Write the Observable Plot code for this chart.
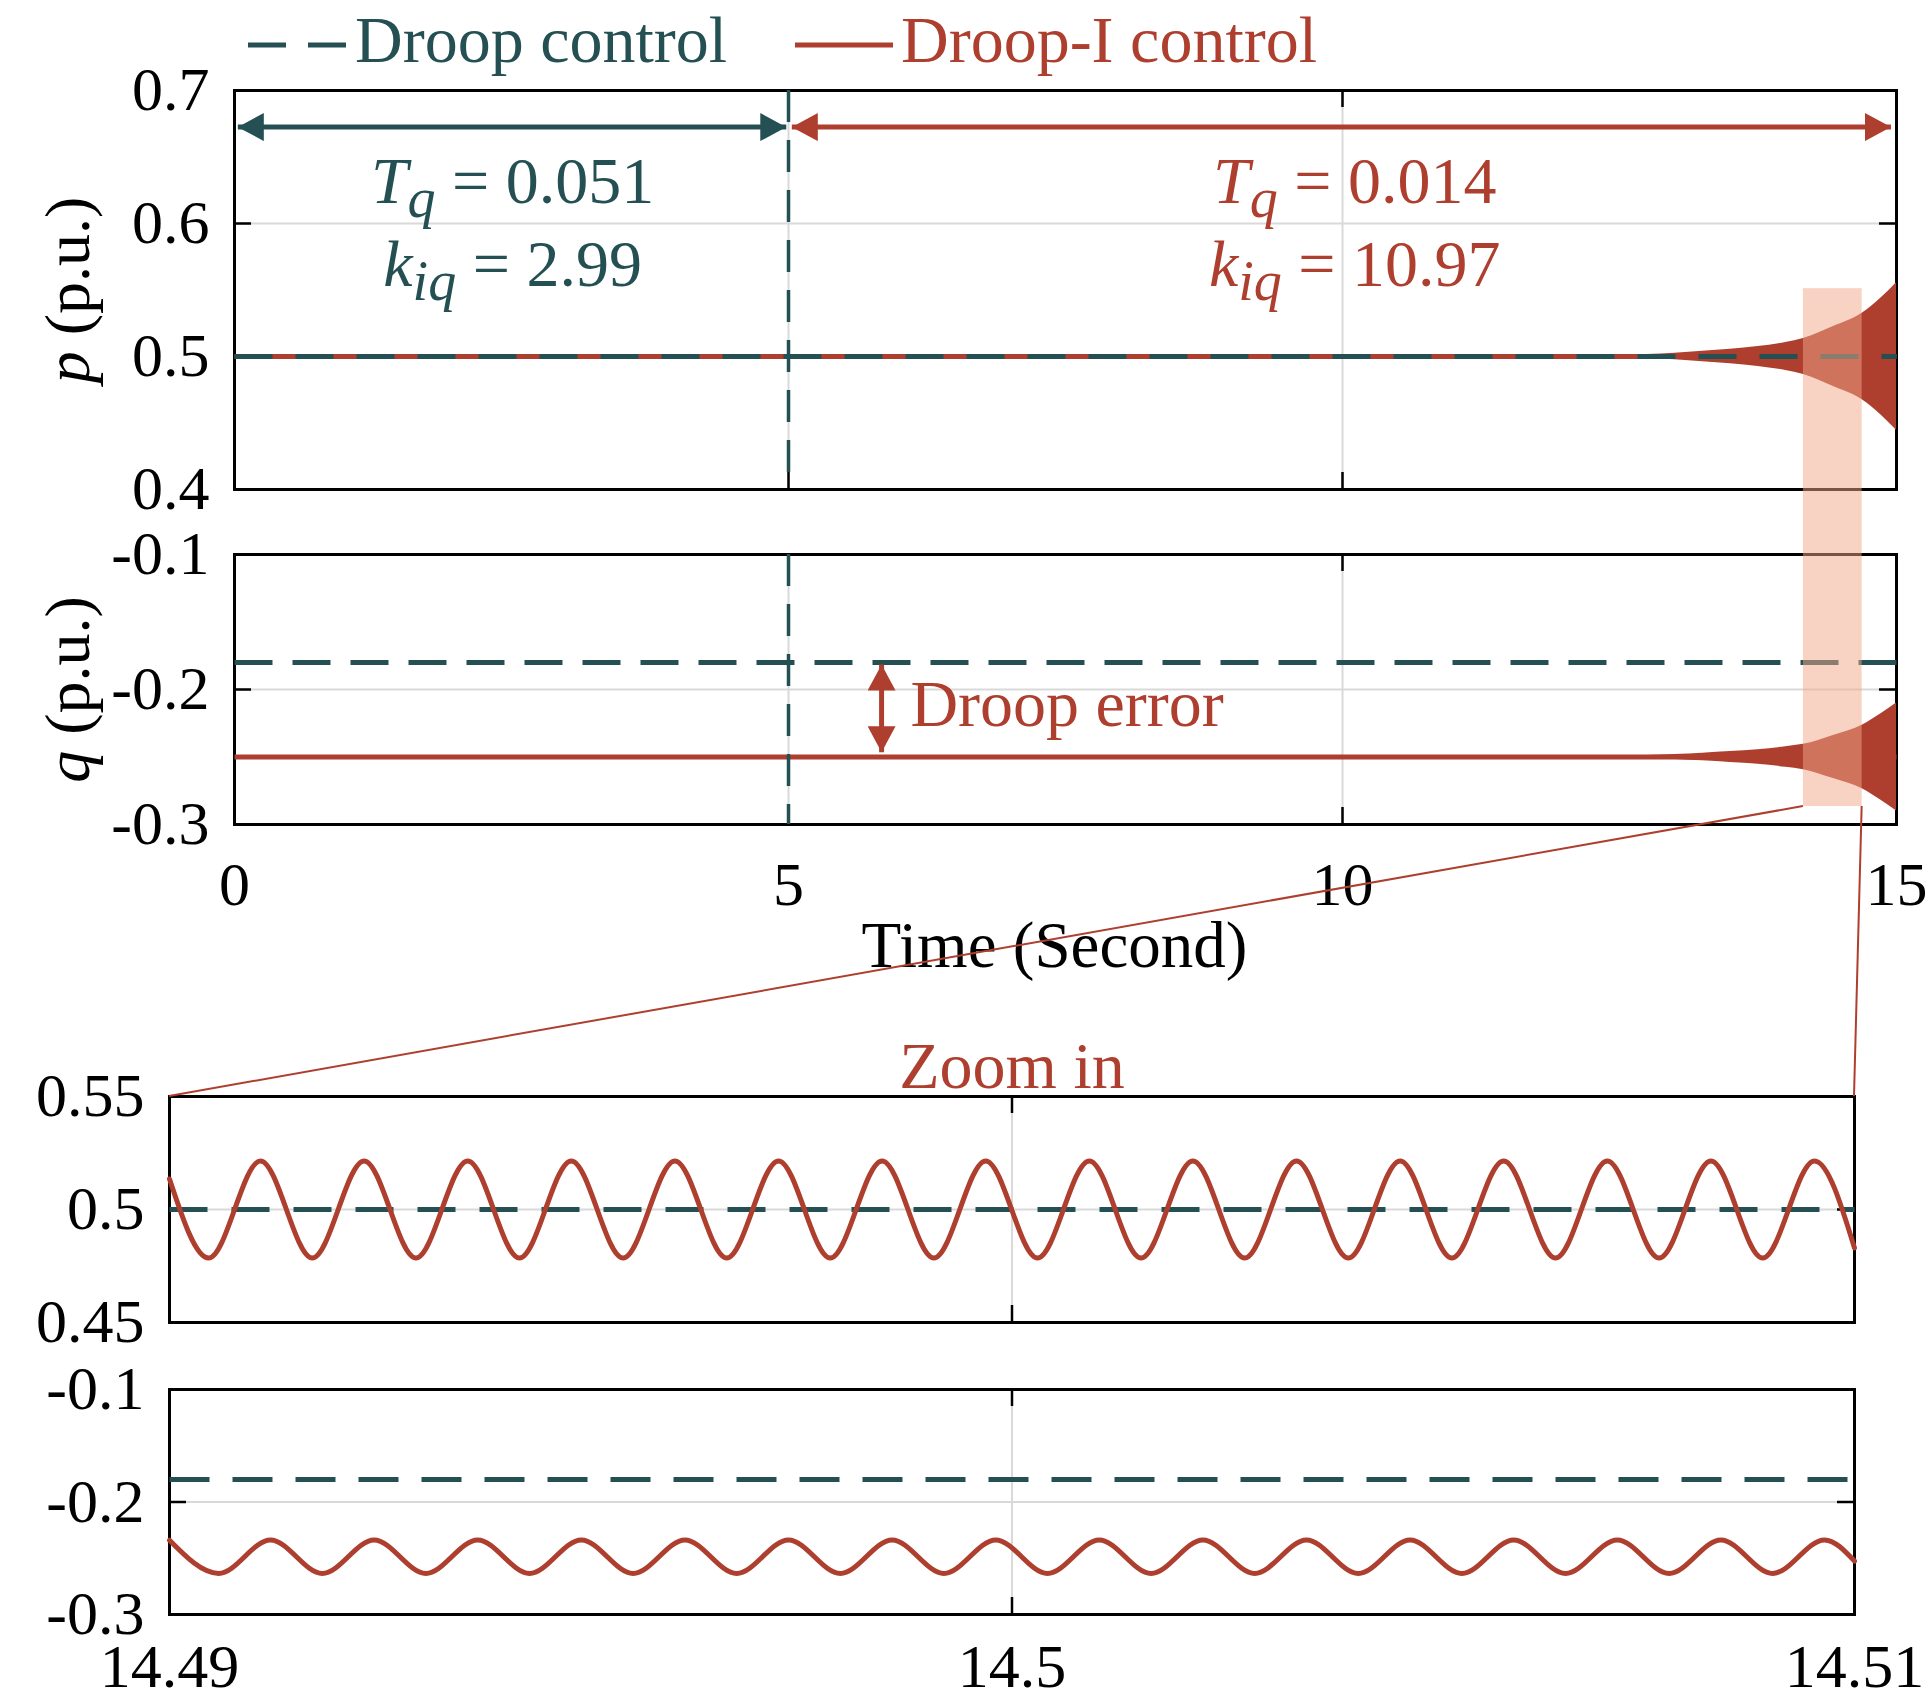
<!DOCTYPE html>
<html>
<head>
<meta charset="utf-8">
<script src="https://cdn.jsdelivr.net/npm/d3@7"></script>
<script src="https://cdn.jsdelivr.net/npm/@observablehq/plot@0.6"></script>
<style>
html, body { margin: 0; padding: 0; background: #fff; }
#chart { position: relative; width: 1927px; height: 1705px; background: #fff; overflow: hidden; }
#chart > svg { position: absolute; left: 0; }
text { white-space: pre; }
</style>
</head>
<body>
<div id="chart"></div>
<script>
// ---------------- data ----------------
const seriesNames = ["Droop control", "Droop-I control"];
const simTime = [0, 15];
const droopP = [0.5, 0.5];
const droopIP = [0.5, 0.5];
const droopQ = [-0.18, -0.18];
const droopIQ = [-0.25, -0.25];
// growing oscillation envelope of Droop-I control (half amplitude)
const envTime = [0, 11.5, 12.0, 12.5, 13.0, 13.25, 13.5, 13.75, 14.0, 14.16, 14.43, 14.69, 14.86, 15.0];
const pEnvAmp = [0, 0, 0.0003, 0.001, 0.0025, 0.004, 0.0055, 0.0075, 0.0105, 0.0135, 0.0225, 0.0325, 0.044, 0.0555];
const qEnvAmp = [0, 0, 0.0002, 0.0007, 0.0018, 0.0028, 0.004, 0.0054, 0.0076, 0.0094, 0.016, 0.0235, 0.032, 0.04];
const timeTicks = [0, 5, 10, 15];
const pTicks = [0.4, 0.5, 0.6, 0.7];
const qTicks = [-0.3, -0.2, -0.1];
const switchTime = [5];
// zoom window
const zoomWindow = [14.49, 14.51];
const zoomTicks = [14.49, 14.5, 14.51];
const zoomPTicks = [0.45, 0.5, 0.55];
const zoomQTicks = [-0.3, -0.2, -0.1];
const zoomBoxTime = [14.16, 14.69];
const zoomBoxP = 0.551;
const zoomBoxQ = -0.2867;
// zoomed Droop-I p: extrema
const zoomPStart = 0.5135, zoomPEnd = 0.483, zoomPPeak = 0.5215, zoomPTrough = 0.4785;
const zoomPTroughT = [14.490465, 14.491695, 14.492925, 14.494154, 14.495384, 14.496614, 14.497843, 14.499073, 14.500303, 14.501532, 14.502762, 14.503992, 14.505221, 14.506451, 14.507681, 14.508910];
const zoomPPeakT = [14.491080, 14.492310, 14.493540, 14.494769, 14.495999, 14.497229, 14.498458, 14.499688, 14.500918, 14.502147, 14.503377, 14.504607, 14.505836, 14.507066, 14.508296, 14.509525];
// zoomed Droop-I q
const zoomQStart = -0.234, zoomQEnd = -0.2525, zoomQPeak = -0.2337, zoomQTrough = -0.2635;
const zoomQTroughT = [14.490584, 14.491814, 14.493043, 14.494273, 14.495503, 14.496732, 14.497962, 14.499192, 14.500421, 14.501651, 14.502881, 14.504110, 14.505340, 14.506570, 14.507799, 14.509029];
const zoomQPeakT = [14.491199, 14.492429, 14.493658, 14.494888, 14.496118, 14.497347, 14.498577, 14.499807, 14.501036, 14.502266, 14.503496, 14.504725, 14.505955, 14.507185, 14.508414, 14.509644];
// annotations (data units)
const paramTeal = [{x: 2.51, y: 0.631, sym: "T", sub: "q", value: "0.051"}, {x: 2.51, y: 0.5687, sym: "k", sub: "iq", value: "2.99"}];
const paramRed = [{x: 10.11, y: 0.631, sym: "T", sub: "q", value: "0.014"}, {x: 10.11, y: 0.5687, sym: "k", sub: "iq", value: "10.97"}];
const spanTeal = [{x1: 0.03, x2: 4.98, y: 0.6725}];
const spanRed = [{x1: 5.03, x2: 14.95, y: 0.6725}];
const errArrow = [{x: 5.84, y1: -0.1815, y2: -0.2465}];
const errLabel = [{x: 6.1, y: -0.2115, text: "Droop error"}];

// ---------------- style ----------------
const TEAL = "#245054", RED = "#ae3f2f";
const FONT = '"Liberation Serif","Times New Roman",serif';
const W = 1927, TICK = 17;
const ns = "http://www.w3.org/2000/svg";

// tables built from arrays
const rows = (xs, ys) => xs.map((t, i) => ({t, v: ys[i]}));
const envRows = (center, amp) => envTime.map((t, i) => ({t, lo: center - amp[i], hi: center + amp[i]}));
function zoomRows(startV, endV, troughT, troughV, peakT, peakV) {
  const out = [{t: zoomWindow[0], v: startV}];
  troughT.forEach((t, i) => { out.push({t, v: troughV}); out.push({t: peakT[i], v: peakV}); });
  out.push({t: zoomWindow[1], v: endV});
  return out.sort((a, b) => a.t - b.t);
}

function buildPanel(c) {
  const FW = W - c.ml - c.mr, FH = c.height - c.mt - c.mb;
  const tk = {stroke: "black", strokeWidth: 2.5};
  const grid = {stroke: "#d9d9d9", strokeOpacity: 1, strokeWidth: 2};
  const marks = [
    Plot.gridX(c.xTicks, grid),
    Plot.gridY(c.yTicks, grid),
    Plot.frame({stroke: "black", strokeWidth: 3}),
    Plot.tickY(c.yTicks, {...tk, insetRight: FW - TICK}),
    Plot.tickY(c.yTicks, {...tk, insetLeft: FW - TICK}),
    Plot.tickX(c.xTicks, {...tk, insetTop: FH - TICK}),
    Plot.tickX(c.xTicks, {...tk, insetBottom: FH - TICK}),
    Plot.axisY({ticks: c.yTicks, tickSize: 0, tickPadding: 25, tickFormat: d => String(d), label: null, fontSize: 62})
  ];
  if (c.xLabels) marks.push(Plot.axisX({ticks: c.xTicks, tickSize: 0, tickPadding: c.xPad, tickFormat: d => String(d), label: null, fontSize: 62}));
  marks.push(...c.marks);
  const svg = Plot.plot({
    width: W, height: c.height,
    marginTop: c.mt, marginBottom: c.mb, marginLeft: c.ml, marginRight: c.mr,
    x: {domain: c.x, axis: null},
    y: {domain: c.y, axis: null},
    style: {fontFamily: FONT, fontSize: "62px", background: "transparent", overflow: "visible", color: "black"},
    marks
  });
  svg.style.position = "absolute";
  svg.style.top = c.top + "px";
  svg.style.left = "0px";
  return svg;
}

function addMarkers(svg, prefix) {
  const defs = document.createElementNS(ns, "defs");
  for (const [id, col] of [["teal", TEAL], ["red", RED]]) {
    const m = document.createElementNS(ns, "marker");
    m.setAttribute("id", prefix + "-" + id);
    m.setAttribute("viewBox", "0 -14 26 28");
    m.setAttribute("refX", "26");
    m.setAttribute("refY", "0");
    m.setAttribute("markerWidth", "26");
    m.setAttribute("markerHeight", "28");
    m.setAttribute("markerUnits", "userSpaceOnUse");
    m.setAttribute("orient", "auto-start-reverse");
    const p = document.createElementNS(ns, "path");
    p.setAttribute("d", "M0,-14L26,0L0,14Z");
    p.setAttribute("fill", col);
    m.appendChild(p);
    defs.appendChild(m);
  }
  svg.insertBefore(defs, svg.firstChild);
}
// elements tagged through the ariaLabel channel
function tagged(svg, label, tag) {
  return Array.from(svg.querySelectorAll(`[aria-label="${label}"]`))
    .flatMap(el => el.tagName.toLowerCase() === "g" ? Array.from(el.querySelectorAll(tag)) : [el]);
}
function setArrow(svg, label, markerId) {
  tagged(svg, label, "path").forEach(p => {
    p.setAttribute("marker-start", `url(#${markerId})`);
    p.setAttribute("marker-end", `url(#${markerId})`);
  });
}
function richText(el, parts) {
  while (el.firstChild) el.removeChild(el.firstChild);
  let shift = 0;
  for (const p of parts) {
    const ts = document.createElementNS(ns, "tspan");
    ts.textContent = p.t;
    if (p.italic) ts.setAttribute("font-style", "italic");
    const target = p.sub ? 14 : 0;
    if (target !== shift) { ts.setAttribute("dy", String(target - shift)); shift = target; }
    if (p.sub) ts.setAttribute("font-size", "56");
    el.appendChild(ts);
  }
}
function richParams(svg, label, data) {
  tagged(svg, label, "text").forEach((el, i) => {
    const d = data[i];
    richText(el, [{t: d.sym, italic: true}, {t: d.sub, italic: true, sub: true}, {t: " = " + d.value}]);
  });
}
function richAxisLabel(svg, label, sym, rest) {
  tagged(svg, label, "text").forEach(el => richText(el, [{t: sym, italic: true}, {t: rest}]));
}
const tag = name => () => name;

const chart = document.getElementById("chart");
const dash = {strokeLinecap: "butt"};

// ---------------- p (main) ----------------
const pMain = buildPanel({
  top: 0, height: 494, mt: 90, mb: 5, ml: 234, mr: 31,
  x: [0, 15], y: [0.4, 0.7], xTicks: timeTicks, yTicks: pTicks,
  marks: [
    Plot.areaY(envRows(droopIP[0], pEnvAmp), {x: "t", y1: "lo", y2: "hi", fill: RED, curve: "monotone-x"}),
    Plot.line(rows(simTime, droopIP), {x: "t", y: "v", stroke: RED, strokeWidth: 5, ...dash}),
    Plot.line(rows(simTime, droopP), {x: "t", y: "v", stroke: TEAL, strokeWidth: 5, strokeDasharray: "38,23", ...dash}),
    Plot.ruleX(switchTime, {stroke: TEAL, strokeWidth: 3.5, strokeDasharray: "32,18", ...dash}),
    Plot.link(spanTeal, {x1: "x1", x2: "x2", y1: "y", y2: "y", stroke: TEAL, strokeWidth: 5, ariaLabel: tag("span-teal")}),
    Plot.link(spanRed, {x1: "x1", x2: "x2", y1: "y", y2: "y", stroke: RED, strokeWidth: 5, ariaLabel: tag("span-red")}),
    Plot.text(paramTeal, {x: "x", y: "y", text: d => d.sym + d.sub + " = " + d.value, fill: TEAL, fontSize: 66, lineAnchor: "middle", ariaLabel: tag("param-teal")}),
    Plot.text(paramRed, {x: "x", y: "y", text: d => d.sym + d.sub + " = " + d.value, fill: RED, fontSize: 66, lineAnchor: "middle", ariaLabel: tag("param-red")}),
    Plot.text(["p (p.u.)"], {text: d => d, frameAnchor: "left", dx: -166, rotate: -90, textAnchor: "middle", lineAnchor: "middle", fontSize: 64, fill: "black", ariaLabel: tag("ylabel-p")})
  ]
});
addMarkers(pMain, "pm");
setArrow(pMain, "span-teal", "pm-teal");
setArrow(pMain, "span-red", "pm-red");
richParams(pMain, "param-teal", paramTeal);
richParams(pMain, "param-red", paramRed);
richAxisLabel(pMain, "ylabel-p", "p", " (p.u.)");
chart.appendChild(pMain);

// ---------------- q (main) ----------------
const qTop = 494;
const qMain = buildPanel({
  top: qTop, height: 506, mt: 60, mb: 176, ml: 234, mr: 31,
  x: [0, 15], y: [-0.3, -0.1], xTicks: timeTicks, yTicks: qTicks, xLabels: true, xPad: 36,
  marks: [
    Plot.areaY(envRows(droopIQ[0], qEnvAmp), {x: "t", y1: "lo", y2: "hi", fill: RED, curve: "monotone-x"}),
    Plot.line(rows(simTime, droopIQ), {x: "t", y: "v", stroke: RED, strokeWidth: 5, ...dash}),
    Plot.line(rows(simTime, droopQ), {x: "t", y: "v", stroke: TEAL, strokeWidth: 5, strokeDasharray: "38,20", ...dash}),
    Plot.ruleX(switchTime, {stroke: TEAL, strokeWidth: 3.5, strokeDasharray: "32,18", ...dash}),
    Plot.link(errArrow, {x1: "x", x2: "x", y1: "y1", y2: "y2", stroke: RED, strokeWidth: 5, ariaLabel: tag("err-arrow")}),
    Plot.text(errLabel, {x: "x", y: "y", text: "text", fill: RED, fontSize: 66, textAnchor: "start", lineAnchor: "middle"}),
    Plot.text(["q (p.u.)"], {text: d => d, frameAnchor: "left", dx: -166, rotate: -90, textAnchor: "middle", lineAnchor: "middle", fontSize: 64, fill: "black", ariaLabel: tag("ylabel-q")}),
    Plot.text(["Time (Second)"], {text: d => d, frameAnchor: "bottom", dy: 122, dx: -11, textAnchor: "middle", lineAnchor: "middle", fontSize: 65, fill: "black"})
  ]
});
addMarkers(qMain, "qm");
setArrow(qMain, "err-arrow", "qm-red");
richAxisLabel(qMain, "ylabel-q", "q", " (p.u.)");
chart.appendChild(qMain);

// ---------------- zoom p ----------------
const zpTop = 1000;
const zoomP = buildPanel({
  top: zpTop, height: 350, mt: 96, mb: 28, ml: 169, mr: 73,
  x: zoomWindow, y: [0.45, 0.55], xTicks: zoomTicks, yTicks: zoomPTicks,
  marks: [
    Plot.line(rows(zoomWindow, droopP), {x: "t", y: "v", stroke: TEAL, strokeWidth: 5, strokeDasharray: "38,24", ...dash}),
    Plot.line(zoomRows(zoomPStart, zoomPEnd, zoomPTroughT, zoomPTrough, zoomPPeakT, zoomPPeak), {x: "t", y: "v", stroke: RED, strokeWidth: 5, curve: "monotone-x"}),
    Plot.text(["Zoom in"], {text: d => d, frameAnchor: "top", dy: -29.5, textAnchor: "middle", lineAnchor: "middle", fontSize: 66, fill: RED})
  ]
});
chart.appendChild(zoomP);

// ---------------- zoom q ----------------
const zqTop = 1350;
const zoomQ = buildPanel({
  top: zqTop, height: 355, mt: 39, mb: 91, ml: 169, mr: 73,
  x: zoomWindow, y: [-0.3, -0.1], xTicks: zoomTicks, yTicks: zoomQTicks, xLabels: true, xPad: 28,
  marks: [
    Plot.line(rows(zoomWindow, droopQ), {x: "t", y: "v", stroke: TEAL, strokeWidth: 5, strokeDasharray: "40,23", ...dash}),
    Plot.line(zoomRows(zoomQStart, zoomQEnd, zoomQTroughT, zoomQTrough, zoomQPeakT, zoomQPeak), {x: "t", y: "v", stroke: RED, strokeWidth: 5, curve: "monotone-x"})
  ]
});
chart.appendChild(zoomQ);

// ---------------- overlay: zoom box, connectors, legend ----------------
const sx = pMain.scale("x"), syP = pMain.scale("y"), syQ = qMain.scale("y");
const zx = zoomP.scale("x"), zy = zoomP.scale("y");
const bx0 = sx.apply(zoomBoxTime[0]), bx1 = sx.apply(zoomBoxTime[1]);
const by0 = syP.apply(zoomBoxP), by1 = syQ.apply(zoomBoxQ) + qTop;
const zl = zx.apply(zoomWindow[0]), zr = zx.apply(zoomWindow[1]), zt = zy.apply(zoomPTicks[2]) + zpTop;

const ov = d3.create("svg").attr("width", W).attr("height", 1705)
  .style("position", "absolute").style("top", "0px").style("left", "0px").style("pointer-events", "none")
  .style("font-family", FONT);
ov.append("rect").attr("x", bx0).attr("y", by0).attr("width", bx1 - bx0).attr("height", by1 - by0)
  .attr("fill", "rgb(241,167,137)").attr("fill-opacity", 0.5);
ov.append("line").attr("x1", bx0).attr("y1", by1).attr("x2", zl).attr("y2", zt).attr("stroke", RED).attr("stroke-width", 2);
ov.append("line").attr("x1", bx1).attr("y1", by1).attr("x2", zr).attr("y2", zt).attr("stroke", RED).attr("stroke-width", 2);

// legend
const lg = ov.append("g");
lg.append("line").attr("x1", 248).attr("x2", 346).attr("y1", 45).attr("y2", 45)
  .attr("stroke", TEAL).attr("stroke-width", 5).attr("stroke-dasharray", "38,22");
lg.append("text").attr("x", 355).attr("y", 62).attr("fill", TEAL).attr("font-size", 66).text(seriesNames[0]);
lg.append("line").attr("x1", 795).attr("x2", 893).attr("y1", 45).attr("y2", 45)
  .attr("stroke", RED).attr("stroke-width", 5);
lg.append("text").attr("x", 901).attr("y", 62).attr("fill", RED).attr("font-size", 66).text(seriesNames[1]);
chart.appendChild(ov.node());
</script>
</body>
</html>
